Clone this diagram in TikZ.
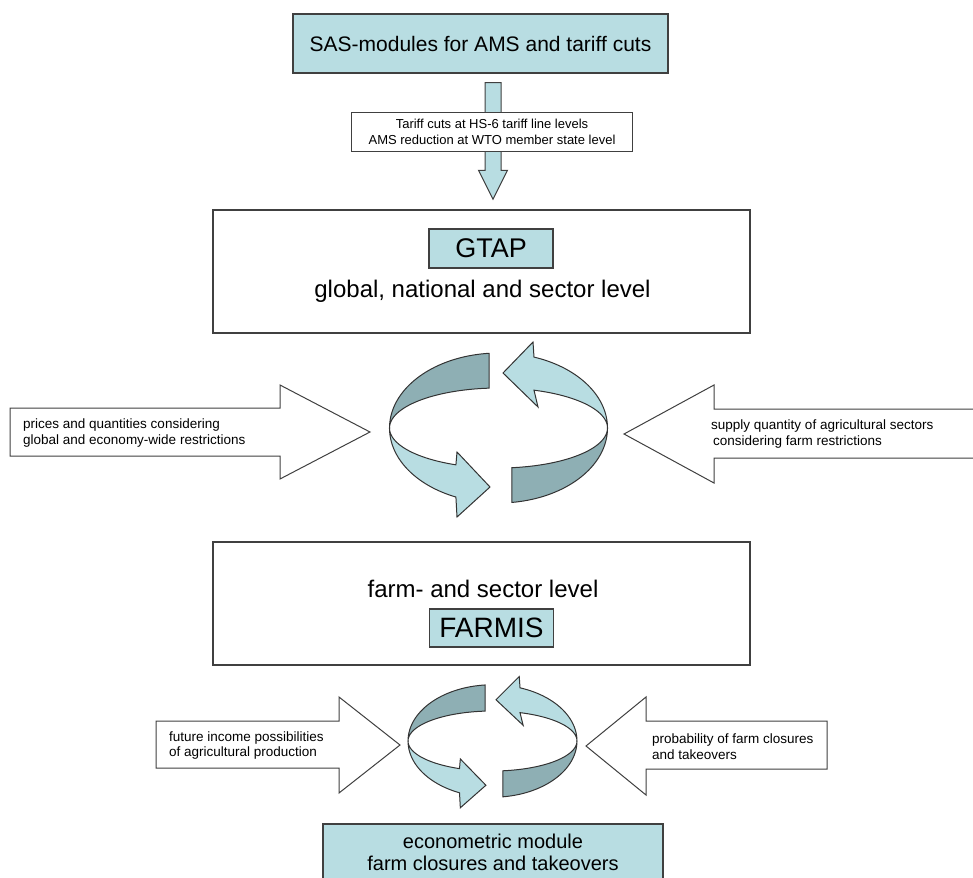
\documentclass[tikz,border=0pt]{standalone}
\usepackage{fontspec}
\setmainfont{Liberation Sans}
\usetikzlibrary{calc}

\definecolor{modfill}{RGB}{184,221,226}
\definecolor{ringdark}{RGB}{142,175,180}
\definecolor{edgegray}{RGB}{64,64,64}

\newcommand{\fsz}[2]{\fontsize{#1}{#2}\selectfont}

% ribbon ring with two arrows: centre x, centre y, xscale, yscale
\newcommand{\cyclering}[4]{%
  \begin{scope}[shift={(#1,#2)}, xscale=#3, yscale=#4, samples=40]
    \draw[ringback] plot[domain=95:180] ({109*cos(\x)},{-75*sin(\x)})
      -- plot[domain=180:95] ({109*cos(\x)},{-40*sin(\x)}) -- cycle;
    \draw[ringfront] plot[domain=0:71] ({109*cos(\x)},{-75*sin(\x)})
      -- (34.5,-86) -- (4.5,-55) -- (39.5,-21)
      -- plot[domain=71:0] ({109*cos(\x)},{-40*sin(\x)}) -- cycle;
    \draw[ringback] plot[domain=277:360] ({109*cos(\x)},{-40*sin(\x)})
      -- plot[domain=360:277] ({109*cos(\x)},{-75*sin(\x)}) -- cycle;
    \draw[ringfront] plot[domain=180:247] ({109*cos(\x)},{-40*sin(\x)})
      -- (-41.5,24) -- (-8.5,59) -- (-41.5,89)
      -- plot[domain=247:180] ({109*cos(\x)},{-75*sin(\x)}) -- cycle;
  \end{scope}}

\begin{document}
\begin{tikzpicture}[x=1pt, y=-1pt,
    modbox/.style={draw=edgegray, line width=1.3pt, fill=modfill, inner sep=0pt, align=center},
    levelbox/.style={draw=edgegray, line width=1.3pt, fill=white, inner sep=0pt},
    blockarrow/.style={draw=edgegray, line width=1pt, fill=white},
    ringfront/.style={draw=black!80, line width=1pt, fill=modfill},
    ringback/.style={draw=black!80, line width=1pt, fill=ringdark},
    note/.style={inner sep=0pt, anchor=west, align=left, font=\fsz{13.5}{16}}]
  \useasboundingbox (0,0) rectangle (973,877);
  \clip (0,0) rectangle (973,877);

  \node[modbox, minimum width=375pt, minimum height=59pt, font=\fsz{21}{25}] (sas) at (480.5,43.5) {SAS-modules for AMS and tariff cuts};

  \node[levelbox, minimum width=537pt, minimum height=123pt] (gtap) at (481.5,271.5) {};
  \node[modbox, minimum width=124pt, minimum height=39pt, font=\fsz{27}{30}] (gtaptag) at (491,248.5) {GTAP};
  \node[font=\fsz{24}{28}, anchor=base] (gtaplevel) at (482.5,297) {global, national and sector level};

  % arrow from SAS down to GTAP
  \path (gtaptag.north |- sas.south) ++(2,9) coordinate (shafttop);
  \path (gtaptag.north |- gtap.north) ++(2,-10) coordinate (arrowtip);
  \draw[blockarrow, fill=modfill] ($(shafttop)+(-8,0)$) -- ($(shafttop)+(8,0)$) -- ($(arrowtip)+(8,-29)$)
    -- ($(arrowtip)+(14.5,-29)$) -- (arrowtip) -- ($(arrowtip)+(-14.5,-29)$) -- ($(arrowtip)+(-8,-29)$) -- cycle;
  \node[draw=edgegray, line width=0.8pt, fill=white, minimum width=281pt, minimum height=39pt, inner sep=0pt,
    align=center, font=\fsz{13}{16}] (cutlabel) at (492,131.5) {Tariff cuts at HS-6 tariff line levels\\AMS reduction at WTO member state level};

  \cyclering{498.5}{428}{1}{1}

  \draw[blockarrow] (10,408) -- (280,408) -- (280,385) -- (370,432) -- (280,479) -- (280,456) -- (10,456) -- cycle;
  \node[note] (pricetext) at (23,433) {prices and quantities considering\\global and economy-wide restrictions};
  \draw[blockarrow] (985,409) -- (714,409) -- (714,385) -- (624,434) -- (714,483) -- (714,458) -- (985,458) -- cycle;
  \node[note] (supplytext) at (711,434) {supply quantity of agricultural sectors\\\hspace*{2pt}considering farm restrictions};

  \node[levelbox, minimum width=537pt, minimum height=123pt] (farmis) at (481.5,603.5) {};
  \node[font=\fsz{24}{28}, anchor=base] (farmlevel) at (483,597) {farm- and sector level};
  \node[modbox, minimum width=124pt, minimum height=38pt, font=\fsz{28}{32}] (farmistag) at (491.5,628) {FARMIS};

  \cyclering{492.5}{741}{0.775}{0.75}

  \draw[blockarrow] (156,721) -- (339,721) -- (339,697) -- (400,745) -- (339,793) -- (339,768) -- (156,768) -- cycle;
  \node[note] (incometext) at (169,745.5) {future income possibilities\\of agricultural production};
  \draw[blockarrow] (827,721) -- (646,721) -- (646,697) -- (586,746) -- (646,795) -- (646,769) -- (827,769) -- cycle;
  \node[note] (closuretext) at (652,747) {probability of farm closures\\and takeovers};

  \node[modbox, minimum width=340pt, minimum height=57pt, font=\fsz{20}{22}] (econ) at (493,852.5) {econometric module\\farm closures and takeovers};
\end{tikzpicture}
\end{document}
